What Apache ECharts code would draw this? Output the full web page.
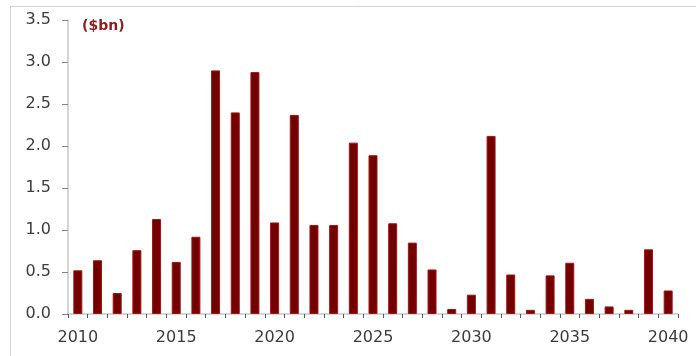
<!DOCTYPE html>
<html>
<head>
<meta charset="utf-8">
<script src="https://cdn.jsdelivr.net/npm/echarts@6/dist/echarts.min.js"></script>
<style>html,body{margin:0;padding:0;background:#fff;}#c{width:696px;height:356px;}</style>
</head>
<body>
<div id="c"></div>
<script>
const years = ['2010','2011','2012','2013','2014','2015','2016','2017','2018','2019','2020','2021','2022','2023','2024','2025','2026','2027','2028','2029','2030','2031','2032','2033','2034','2035','2036','2037','2038','2039','2040'];
const values = [0.52,0.64,0.25,0.76,1.13,0.62,0.92,2.90,2.40,2.88,1.09,2.37,1.06,1.06,2.04,1.89,1.08,0.85,0.53,0.06,0.23,2.12,0.47,0.05,0.46,0.61,0.18,0.09,0.05,0.77,0.28];
const yTicks = ['0.0','0.5','1.0','1.5','2.0','2.5','3.0','3.5'];
const unitLabel = '($bn)';

const chart = echarts.init(document.getElementById('c'));
chart.setOption({
  animation: false,
  grid: {left: 68, right: 18, top: 20, bottom: 42, containLabel: false},
  graphic: [
    {type: 'line', shape: {x1: 11, y1: 6.5, x2: 696, y2: 6.5}, style: {stroke: '#d4d4d4', lineWidth: 1}},
    {type: 'line', shape: {x1: 10.5, y1: 6, x2: 10.5, y2: 356}, style: {stroke: '#d4d4d4', lineWidth: 1}},
    {type: 'text', left: 82, top: 19, style: {text: unitLabel, fill: '#8b1e1e', font: 'bold 14px "DejaVu Sans"'}}
  ],
  xAxis: {
    type: 'category',
    data: years,
    boundaryGap: true,
    axisLine: {lineStyle: {color: '#c8c8c8', width: 1.5}},
    axisTick: {show: true, interval: 0, length: 4, lineStyle: {color: '#555'}},
    axisLabel: {
      interval: (i, v) => (parseInt(v) % 5 === 0),
      color: '#3c3c3c', fontFamily: 'DejaVu Sans', fontSize: 16, margin: 16
    }
  },
  yAxis: {
    type: 'value',
    min: 0, max: 3.5, interval: 0.5,
    axisLine: {show: true, lineStyle: {color: '#c8c8c8', width: 1.5}},
    axisTick: {show: true, length: 6, lineStyle: {color: '#888'}},
    splitLine: {show: false},
    axisLabel: {
      formatter: (v) => yTicks[Math.round(v / 0.5)],
      color: '#3c3c3c', fontFamily: 'DejaVu Sans', fontSize: 16, margin: 17
    }
  },
  series: [{
    type: 'bar',
    data: values,
    barWidth: 9,
    itemStyle: {color: '#720000', borderColor: '#a31515', borderWidth: 1}
  }]
});
</script>
</body>
</html>
